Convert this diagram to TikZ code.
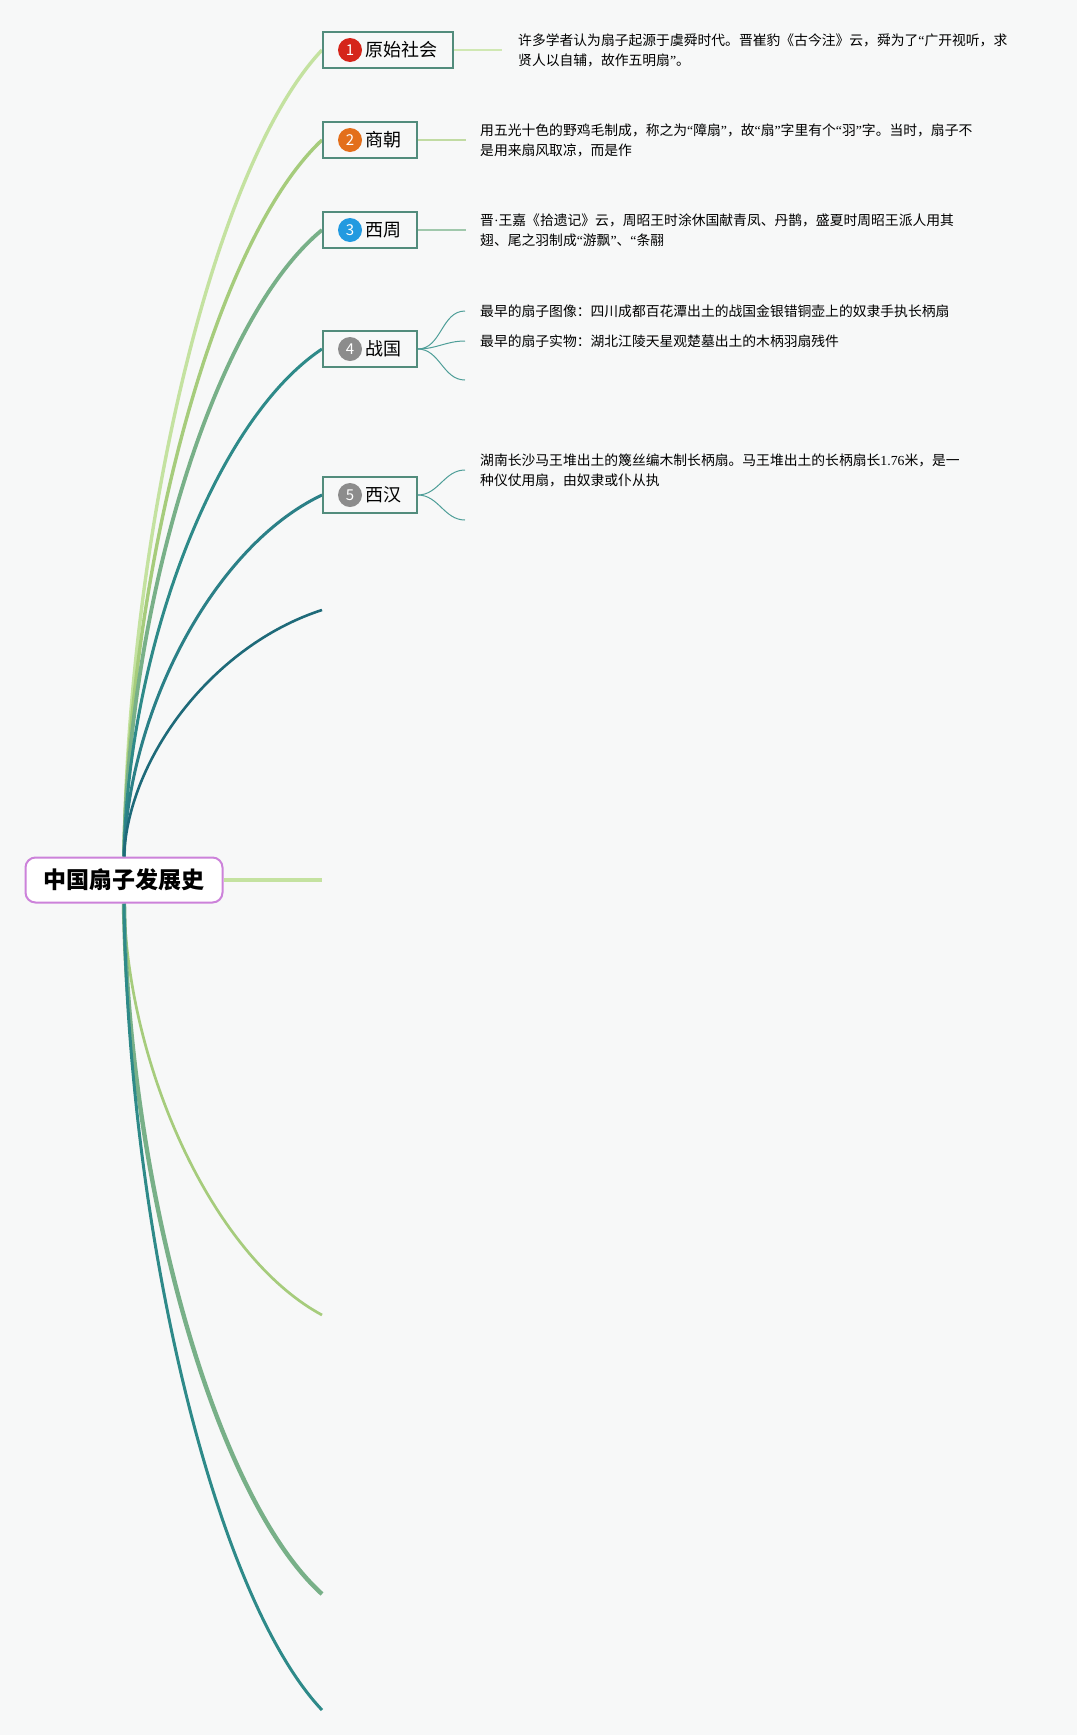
\documentclass[tikz,border=0pt]{standalone}
\usepackage{fontspec}
\setmainfont{Noto Sans CJK SC}
\newfontfamily\numfont{Liberation Serif}
\usetikzlibrary{positioning, calc, backgrounds}

\definecolor{cBg}{RGB}{247,248,248}
\definecolor{cRoot}{RGB}{204,130,218}
\definecolor{cBox}{RGB}{82,140,124}
\definecolor{cLa}{RGB}{196,226,160}
\definecolor{cLb}{RGB}{166,204,124}
\definecolor{cLc}{RGB}{120,176,136}
\definecolor{cLd}{RGB}{46,138,137}
\definecolor{cLe}{RGB}{43,128,135}
\definecolor{cLf}{RGB}{30,106,121}
\definecolor{cRed}{RGB}{213,37,26}
\definecolor{cOrange}{RGB}{227,111,27}
\definecolor{cBlue}{RGB}{34,154,224}
\definecolor{cGray}{RGB}{140,140,140}
\definecolor{cTwig}{RGB}{78,158,152}

% narrow quotes, as in the original
\newcommand\qo{{\numfont “}}
\newcommand\qc{{\numfont ”}}

\tikzset{
  root/.style={draw=cRoot, line width=2pt, rounded corners=10pt, fill=white,
    minimum width=197pt, minimum height=45pt, inner sep=0pt,
    font=\fontsize{23}{23}\selectfont\bfseries},
  period/.style={draw=cBox, line width=1.8pt, fill=cBg, anchor=west,
    minimum height=36pt, inner xsep=15pt, inner ysep=0pt,
    font=\fontsize{18}{18}\selectfont},
  badge/.style={circle, inner sep=0pt, minimum size=24pt, text=white,
    font=\fontsize{15}{15}\selectfont},
  detail/.style={anchor=west, align=left, inner sep=0pt,
    font=\fontsize{13.8}{20}\selectfont},
  twig/.style={cTwig, line width=1pt},
}

\begin{document}
\begin{tikzpicture}[x=1pt, y=-1pt]
  \useasboundingbox (0,0) rectangle (1077,1735);

  % centre topic
  \node[root] (root) at (124,880) {中国扇子发展史};

  % periods
  \node[period] (p1) at (322,50) {\hspace*{28pt}原始社会};
  \node[badge, fill=cRed] (b1) at ([xshift=28pt]p1.west) {1};
  \node[period] (p2) at (322,140) {\hspace*{28pt}商朝};
  \node[badge, fill=cOrange] (b2) at ([xshift=28pt]p2.west) {2};
  \node[period] (p3) at (322,230) {\hspace*{28pt}西周};
  \node[badge, fill=cBlue] (b3) at ([xshift=28pt]p3.west) {3};
  \node[period] (p4) at (322,349) {\hspace*{28pt}战国};
  \node[badge, fill=cGray] (b4) at ([xshift=28pt]p4.west) {4};
  \node[period] (p5) at (322,495) {\hspace*{28pt}西汉};
  \node[badge, fill=cGray] (b5) at ([xshift=28pt]p5.west) {5};

  % empty topics
  \coordinate (e6) at (322,610);
  \coordinate (e7) at (322,880);
  \coordinate (e8) at (322,1315);
  \coordinate (e9) at (322,1594);
  \coordinate (e10) at (322,1710);

  % details
  \node[detail] (t1) at (518,50) {许多学者认为扇子起源于虞舜时代。晋崔豹《古今注》云，舜为了\qo 广开视听，求\\贤人以自辅，故作五明扇\qc 。};
  \node[detail] (t2) at (480,140) {用五光十色的野鸡毛制成，称之为\qo 障扇\qc ，故\qo 扇\qc 字里有个\qo 羽\qc 字。当时，扇子不\\是用来扇风取凉，而是作};
  \node[detail] (t3) at (480,230) {晋{\numfont ·}王嘉《拾遗记》云，周昭王时涂休国献青凤、丹鹊，盛夏时周昭王派人用其\\翅、尾之羽制成\qo 游飘\qc 、\qo 条翮};
  \node[detail] (t4a) at (480,311) {最早的扇子图像：四川成都百花潭出土的战国金银错铜壶上的奴隶手执长柄扇};
  \node[detail] (t4b) at (480,341) {最早的扇子实物：湖北江陵天星观楚墓出土的木柄羽扇残件};
  \coordinate (k4) at (465,380);
  \node[detail] (t5) at (480,470) {湖南长沙马王堆出土的篾丝编木制长柄扇。马王堆出土的长柄扇长{\numfont 1.76}米，是一\\种仪仗用扇，由奴隶或仆从执};
  \coordinate (k5) at (465,520);

  \draw[cLa!80, line width=1.5pt] (p1.east) -- ([xshift=-16pt]t1.west);
  \draw[cLb!70, line width=1.5pt] (p2.east) -- ([xshift=-14pt]t2.west);
  \draw[cLc!70, line width=1.5pt] (p3.east) -- ([xshift=-14pt]t3.west);
  \draw[twig] (p4.east) to[out=0, in=180] ([xshift=-15pt]t4a.west);
  \draw[twig] (p4.east) to[out=0, in=180] ([xshift=-15pt]t4b.west);
  \draw[twig] (p4.east) to[out=0, in=180] (k4);
  \draw[twig] (p5.east) to[out=0, in=180] ([xshift=-15pt]t5.west);
  \draw[twig] (p5.east) to[out=0, in=180] (k5);

  % main branches
  \begin{scope}[on background layer]
    \fill[cBg] (0,0) rectangle (1077,1735);
    \foreach \tgt/\col/\wd in {p1.west/cLa/3.4, p2.west/cLb/3.4, p3.west/cLc/3.8,
                               p4.west/cLd/3, p5.west/cLe/3, e6/cLf/2.6}
      \draw[\col, line width=\wd pt]
        (root.north) .. controls ($(root.north)!0.4!(root.north |- \tgt) + (4,0)$)
        and ($(root.north)!0.857!(root.north |- \tgt) + (89,0)$) .. (\tgt);
    \foreach \tgt/\col/\wd in {e8/cLb/2.7, e9/cLc/4.4, e10/cLd/3}
      \draw[\col, line width=\wd pt]
        (root.south) .. controls ($(root.south)!0.4!(root.south |- \tgt) + (4,0)$)
        and ($(root.south)!0.857!(root.south |- \tgt) + (89,0)$) .. (\tgt);
    \draw[cLa, line width=4pt] (root.east) -- (e7);
  \end{scope}
\end{tikzpicture}
\end{document}
